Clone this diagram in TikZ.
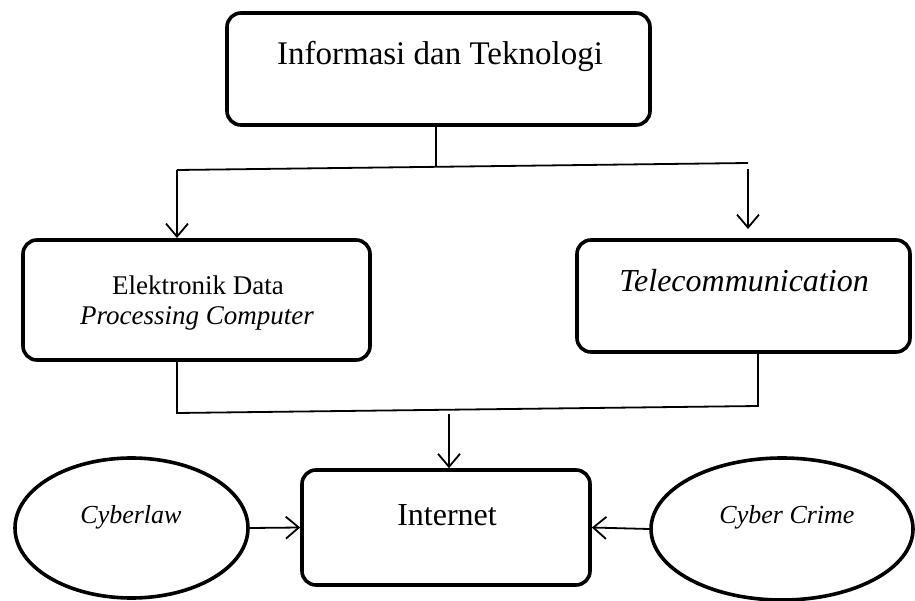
\documentclass[tikz,border=0pt]{standalone}
\usepackage{fontspec}
\setmainfont{Liberation Serif}
\usetikzlibrary{arrows.meta,shapes.geometric}
\begin{document}
\begin{tikzpicture}[x=1pt,y=-1pt,
  box/.style={draw, line width=3.6pt, rounded corners=14pt, inner sep=0pt, rectangle},
  oval/.style={draw, line width=3.6pt, ellipse, inner sep=0pt},
  conn/.style={line width=1.8pt},
  arr/.style={conn, -{Straight Barb[length=13pt,width=22pt,line width=1.8pt]}},
  lbl/.style={anchor=base, inner sep=0pt}]
\useasboundingbox (0,0) rectangle (915,601);
% boxes
\node[box, minimum width=423pt, minimum height=112pt] (top) at (438.5,69) {};
\node[box, minimum width=347pt, minimum height=120pt] (edp) at (196.5,300) {};
\node[box, minimum width=333pt, minimum height=112pt] (tel) at (743.5,296) {};
\node[box, minimum width=288pt, minimum height=115pt] (inet) at (446,527.5) {};
\node[oval, minimum width=233pt, minimum height=140pt] (law) at (131.5,528) {};
\node[oval, minimum width=262pt, minimum height=142pt] (crime) at (782,529) {};
% texts
\node[lbl, font=\fontsize{33}{36}\selectfont] (ttop) at (440,65) {Informasi dan Teknologi};
\node[lbl, font=\fontsize{27}{30}\selectfont] (tedp1) at (198,295) {Elektronik Data};
\node[lbl, font=\fontsize{27}{30}\selectfont\itshape] (tedp2) at (197,325) {Processing Computer};
\node[lbl, font=\fontsize{32}{36}\selectfont\itshape] (ttel) at (744,292) {Telecommunication};
\node[lbl, font=\fontsize{32}{36}\selectfont] (tinet) at (447,525) {Internet};
\node[lbl, font=\fontsize{26}{30}\selectfont\itshape] (tlaw) at (131,523) {Cyberlaw};
\node[lbl, font=\fontsize{26}{30}\selectfont\itshape] (tcrime) at (787,523) {Cyber Crime};
% connector points
\coordinate (tJ) at (436,166);
\coordinate (hL) at (177,170);
\coordinate (hR) at (748,163);
\coordinate (rS) at (748,169);
\coordinate (rE) at (748,229);
\coordinate (lE) at (177,238);
\coordinate (bL) at (177,413);
\coordinate (bR) at (758,406);
\coordinate (bS) at (449,414);
% connectors
\draw[conn] (top.south -| tJ) -- (tJ);
\draw[conn] (hR) -- (hL);
\draw[arr] (hL) -- (lE);
\draw[arr] (rS) -- (rE);
\draw[conn] (edp.south -| bL) -- (bL) -- (bR) -- (tel.south -| bR);
\draw[arr] (bS) -- (inet.north -| bS);
\draw[arr] (law.east) -- (inet.west);
\draw[arr] (crime.west) -- (inet.east);
\end{tikzpicture}
\end{document}
